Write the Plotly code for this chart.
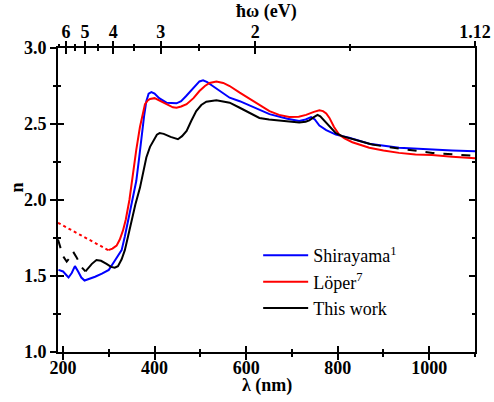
"""Refractive index n(λ): Shirayama / Löper / this work, with photon-energy top axis."""
import plotly.graph_objects as go

# ---- data ----
# Shirayama (blue)
shir_wl = [190, 200, 206, 212, 219, 226, 233, 240, 247, 258, 270, 285, 300, 313, 320,
           328, 335, 342, 350, 357, 360, 366, 371, 377, 382, 387, 393, 400, 410, 426,
           448, 458, 469, 485, 498, 506, 515, 527, 545, 564, 586, 610, 651, 690, 716,
           730, 742, 750, 760, 775, 796, 825, 869, 934, 1006, 1050, 1100]
shir_n = [1.54, 1.53, 1.51, 1.49, 1.52, 1.565, 1.53, 1.49, 1.47, 1.48, 1.495, 1.515, 1.54,
          1.60, 1.63, 1.67, 1.76, 1.86, 1.98, 2.06, 2.125, 2.27, 2.41, 2.55, 2.65, 2.70,
          2.71, 2.70, 2.67, 2.64, 2.636, 2.65, 2.684, 2.735, 2.78, 2.787, 2.775, 2.75,
          2.71, 2.673, 2.65, 2.62, 2.565, 2.535, 2.52, 2.53, 2.545, 2.53, 2.49, 2.46,
          2.43, 2.41, 2.37, 2.344, 2.33, 2.325, 2.32]

# Löper (red): dotted extrapolation below 300 nm, then measured
loper_dot_wl = [189, 245, 299]
loper_dot_n = [1.85, 1.76, 1.67]
loper_wl = [299, 308, 317, 324, 331, 337, 345, 353, 360, 368, 375, 379, 385, 390, 400,
            410, 426, 440, 448, 458, 470, 485, 498, 510, 520, 535, 550, 564, 586, 610,
            630, 651, 672, 694, 715, 731, 748, 760, 768, 775, 782, 792, 803, 815, 832,
            850, 869, 900, 934, 970, 1006, 1050, 1100]
loper_n = [1.67, 1.68, 1.70, 1.74, 1.80, 1.87, 2.00, 2.19, 2.33, 2.48, 2.58, 2.63, 2.655,
           2.665, 2.67, 2.655, 2.63, 2.61, 2.607, 2.615, 2.63, 2.67, 2.717, 2.75, 2.77,
           2.78, 2.77, 2.75, 2.706, 2.66, 2.62, 2.585, 2.56, 2.546, 2.548, 2.56, 2.58,
           2.59, 2.585, 2.57, 2.54, 2.48, 2.43, 2.405, 2.38, 2.36, 2.344, 2.325, 2.31,
           2.30, 2.296, 2.285, 2.274]

# This work (black): dashed outside the fitted range
work_dash_lo_wl = [189, 193, 200, 208, 215, 222, 230, 240, 249]
work_dash_lo_n = [1.74, 1.70, 1.63, 1.595, 1.62, 1.66, 1.62, 1.56, 1.53]
work_wl = [249, 255, 263, 273, 283, 295, 305, 313, 320, 328, 335, 342, 350, 358, 368,
           375, 382, 390, 397, 405, 411, 420, 435, 451, 460, 470, 480, 491, 502, 513,
           535, 564, 586, 610, 629, 650, 673, 700, 716, 730, 738, 748, 756, 762, 774,
           785, 796, 810, 832, 855, 875]
work_n = [1.53, 1.55, 1.58, 1.605, 1.60, 1.58, 1.56, 1.555, 1.565, 1.61, 1.67, 1.76, 1.87,
          1.97, 2.08, 2.18, 2.28, 2.35, 2.39, 2.43, 2.44, 2.435, 2.415, 2.40, 2.42, 2.455,
          2.52, 2.585, 2.625, 2.647, 2.656, 2.64, 2.607, 2.57, 2.54, 2.53, 2.524, 2.515,
          2.51, 2.515, 2.524, 2.545, 2.56, 2.55, 2.51, 2.47, 2.44, 2.42, 2.40, 2.38, 2.365]
work_dash_hi_wl = [875, 934, 1007, 1050, 1100]
work_dash_hi_n = [2.365, 2.338, 2.31, 2.30, 2.29]

# top axis: photon energy (eV) placed at λ = 1239.84 / E
ev_major = [6, 5, 4, 3, 2]
ev_major_text = ["6", "5", "4", "3", "2", "1.12"]
ev_minor = [6.5, 5.5, 4.5, 3.5, 2.5, 1.5]

BLUE = "#0000ff"
RED = "#ff0000"
INK = "#000000"
FONT = "Liberation Serif, Times New Roman, serif"
XR = [189, 1100]
YR = [1.0, 3.0]

ev_major_wl = [1239.84 / e for e in ev_major] + [1100]
ev_minor_wl = [1239.84 / e for e in ev_minor]


def _line(x, y, color, name=None, dash="solid"):
    return go.Scatter(x=x, y=y, mode="lines", name=name, showlegend=name is not None,
                      line=dict(color=color, width=2, dash=dash), hoverinfo="skip")


fig = go.Figure()
fig.add_trace(_line(shir_wl, shir_n, BLUE, "Shirayama<sup>1</sup>"))
fig.add_trace(_line(loper_wl, loper_n, RED, "Löper<sup>7</sup>"))
fig.add_trace(_line(work_wl, work_n, INK, "This work"))
fig.add_trace(_line(loper_dot_wl, loper_dot_n, RED, dash="dot"))
fig.add_trace(_line(work_dash_lo_wl, work_dash_lo_n, INK, dash="dash"))
fig.add_trace(_line(work_dash_hi_wl, work_dash_hi_n, INK, dash="dash"))
# empty traces so the overlay axes (crossing ticks, eV axis) get drawn
for xa, ya in (("x2", "y"), ("x3", "y"), ("x4", "y"), ("x", "y3"), ("x", "y4")):
    fig.add_trace(go.Scatter(x=[None], y=[None], xaxis=xa, yaxis=ya,
                             showlegend=False, hoverinfo="skip"))

tickfont = dict(family=FONT, size=18, color=INK, weight="bold")
tk = dict(tickcolor=INK, tickwidth=1.5)
xcommon = dict(range=XR, showgrid=False, zeroline=False, automargin=False, **tk)
ycommon = dict(range=YR, showgrid=False, zeroline=False, automargin=False, dtick=0.5,
               tick0=1.0, **tk)
xminor = dict(ticklen=3, dtick=100, tick0=200, **tk)
yminor = dict(ticklen=3, dtick=0.25, tick0=1.0, **tk)
evminor = dict(ticklen=3, tickmode="array", tickvals=ev_minor_wl, **tk)

fig.update_layout(
    width=494, height=402,
    paper_bgcolor="white", plot_bgcolor="white",
    margin=dict(l=58, r=19, t=48, b=50),
    font=dict(family=FONT, color=INK, size=18),
    # bottom λ axis: outside half of the crossing ticks + labels
    xaxis=dict(**xcommon, side="bottom", ticks="outside", ticklen=6, tick0=200, dtick=200,
               tickfont=tickfont, ticklabelstandoff=-8, showline=True, linecolor=INK,
               linewidth=2, mirror=True, minor=dict(ticks="outside", **xminor)),
    xaxis3=dict(**xcommon, overlaying="x", anchor="y", side="bottom", ticks="inside",
                ticklen=6, tick0=200, dtick=200, showticklabels=False,
                minor=dict(ticks="inside", **xminor)),
    # top eV axis
    xaxis2=dict(**xcommon, overlaying="x", anchor="y", side="top", ticks="outside",
                ticklen=6, tickmode="array", tickvals=ev_major_wl, ticktext=ev_major_text,
                tickfont=tickfont, ticklabelstandoff=-4,
                minor=dict(ticks="outside", **evminor)),
    xaxis4=dict(**xcommon, overlaying="x", anchor="y", side="top", ticks="inside",
                ticklen=6, tickmode="array", tickvals=ev_major_wl, showticklabels=False,
                minor=dict(ticks="inside", **evminor)),
    yaxis=dict(**ycommon, ticks="outside", ticklen=6, tickformat=".1f",
               tickfont=tickfont, showline=True, linecolor=INK, linewidth=2, mirror=True,
               minor=dict(ticks="outside", **yminor)),
    yaxis3=dict(**ycommon, overlaying="y", anchor="x", side="left", ticks="inside",
                ticklen=6, showticklabels=False, minor=dict(ticks="inside", **yminor)),
    yaxis4=dict(**ycommon, overlaying="y", anchor="x", side="right", ticks="inside",
                ticklen=6, showticklabels=False, minor=dict(ticks="inside", **yminor)),
    showlegend=True,
    legend=dict(x=0.48, y=0.378, xanchor="left", yanchor="top",
                bgcolor="rgba(0,0,0,0)", font=dict(family=FONT, size=18, color=INK),
                itemwidth=45, tracegroupgap=0),
    annotations=[
        dict(text="<b>λ (nm)</b>", xref="paper", yref="paper", x=0.5, y=0,
             yshift=-33, yanchor="middle", showarrow=False,
             font=dict(family=FONT, size=18, color=INK)),
        dict(text="<b>ħω (eV)</b>", xref="paper", yref="paper", x=0.5, y=1,
             yshift=37, yanchor="middle", showarrow=False,
             font=dict(family=FONT, size=18, color=INK)),
        dict(text="<b>n</b>", xref="paper", yref="paper", x=0, y=0.541,
             xshift=-41, xanchor="center", yanchor="middle", textangle=-90,
             showarrow=False, font=dict(family=FONT, size=18, color=INK)),
    ],
)

# page body margin would shift the 494x402 figure inside the window
fig.write_html("out.html", config={"displayModeBar": False},
               post_script="document.body.style.margin='0';")
